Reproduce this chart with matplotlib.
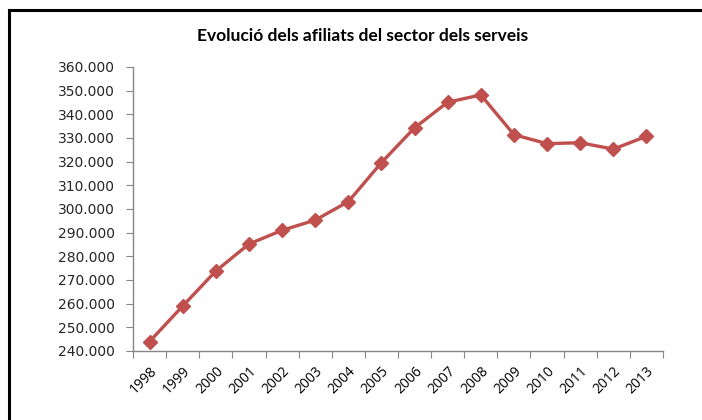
import numpy as np
import matplotlib.pyplot as plt
from matplotlib.lines import Line2D
from matplotlib.ticker import FuncFormatter, MultipleLocator

# data
years = ['1998', '1999', '2000', '2001', '2002', '2003', '2004', '2005',
         '2006', '2007', '2008', '2009', '2010', '2011', '2012', '2013']
afiliats = [244000, 259000, 273800, 285200, 291000, 295300, 303100, 319600,
            334300, 345100, 348200, 331400, 327600, 328000, 325300, 330700]

fig = plt.figure(figsize=(7.02, 4.2), dpi=100)
ax = fig.add_axes([0.1895, 0.1643, 0.7549, 0.6762])

x = np.arange(len(years))
ax.plot(x, afiliats, color='#C0504D', linewidth=2.4, marker='D',
        markersize=7, markerfacecolor='#C0504D', markeredgecolor='#C0504D')

# axis look (excel style)
ax.set_ylim(240000, 360000)
ax.set_xlim(-0.5, len(years) - 0.5)
ax.yaxis.set_major_locator(MultipleLocator(10000))
ax.yaxis.set_major_formatter(FuncFormatter(lambda v, p: f'{int(v):,}'.replace(',', '.')))
ax.set_xticks(np.arange(-0.5, len(years), 1.0))
ax.set_xticklabels([])
ax.set_xticks(x, minor=True)
ax.set_xticklabels(years, minor=True, rotation=45, ha='right', va='top',
                   rotation_mode='anchor', family='Open Sans', fontsize=10)
ax.tick_params(axis='x', which='minor', length=0, pad=9)
ax.tick_params(axis='x', which='major', length=5, color='#868686', direction='out')
ax.tick_params(axis='y', length=5, color='#868686', labelsize=10, pad=8,
               labelcolor='#262626')

for s in ['top', 'right']:
    ax.spines[s].set_visible(False)
for s in ['left', 'bottom']:
    ax.spines[s].set_color('#868686')
    ax.spines[s].set_linewidth(1.0)

fig.text(0.516, 0.915, 'Evolució dels afiliats del sector dels serveis',
         ha='center', va='center', fontsize=12.5, fontweight='bold',
         family='Lato')

# frame round the chart (only top and left are visible in the crop)
fig.add_artist(Line2D([0.0128, 0.0128], [0.0, 0.976], transform=fig.transFigure,
                      color='black', linewidth=2.2))
fig.add_artist(Line2D([0.0128, 1.0], [0.976, 0.976], transform=fig.transFigure,
                      color='black', linewidth=2.2))

fig.savefig('out.png', dpi=100)
